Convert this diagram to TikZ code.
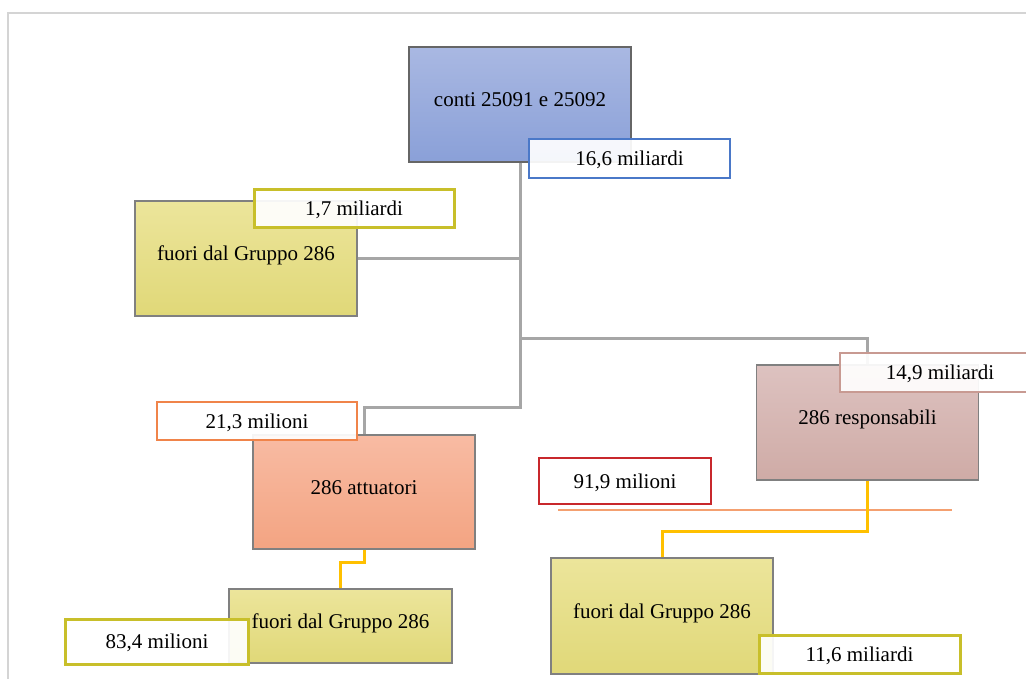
\documentclass[tikz,border=0pt]{standalone}
\usepackage{fontspec}
\setmainfont{Liberation Serif}
\usepackage{tikz}
\definecolor{framegrey}{HTML}{D4D4D4}
\definecolor{linkgrey}{HTML}{A6A6A6}
\definecolor{linkgold}{HTML}{FFC000}
\definecolor{linkorange}{HTML}{F4A070}
\definecolor{olive}{HTML}{C8BF2A}
\definecolor{bluetop}{RGB}{169,184,226}
\definecolor{bluebot}{RGB}{138,160,216}
\definecolor{yeltop}{RGB}{236,229,155}
\definecolor{yelbot}{RGB}{224,216,120}
\definecolor{rosetop}{RGB}{221,194,192}
\definecolor{rosebot}{RGB}{207,171,166}
\definecolor{salmtop}{RGB}{248,187,163}
\definecolor{salmbot}{RGB}{243,164,130}
\definecolor{labblue}{RGB}{74,120,200}
\definecolor{labrose}{RGB}{200,154,146}
\definecolor{labred}{RGB}{200,40,44}
\definecolor{laborange}{RGB}{240,132,74}

\begin{document}
\begin{tikzpicture}[x=1pt, y=-1pt,
    box/.style={draw=#1, line width=1.4pt, minimum width=222pt, minimum height=115pt,
      inner sep=0pt, text height=14pt, text depth=10pt},
    lab/.style={draw=#1, fill=white, fill opacity=0.92, text opacity=1, line width=1.5pt,
      minimum width=200pt, minimum height=38pt, inner sep=0pt, text height=14pt, text depth=0pt},
    grey line/.style={linkgrey, line width=3pt},
    gold line/.style={linkgold, line width=3pt}]
      \path[use as bounding box, clip] (0,0) rectangle (1026,679);
      \fontsize{21}{25}\selectfont

      \draw [framegrey, line width=2pt] (1026,13) -- (8,13) -- (8,679);

      \coordinate (jr) at (520,338);
      \coordinate (ja) at (520,407);
      \coordinate (ol) at (558,510);
      \coordinate (or) at (952,510);

      \node [box=black!60, top color=bluetop, bottom color=bluebot]
            (conti) at (520,104.5) {conti 25091 e 25092};
      \node [box=black!50, top color=yeltop, bottom color=yelbot]
            (fuori1) at (246,258.5) {fuori dal Gruppo 286};
      \node [box=black!50, top color=rosetop, bottom color=rosebot]
            (resp) at (867.5,422.5) {286 responsabili};
      \node [box=black!50, top color=salmtop, bottom color=salmbot, minimum height=114pt]
            (att) at (364,492) {286 attuatori};
      \node [box=black!50, top color=yeltop, bottom color=yelbot, minimum width=223pt, minimum height=74pt]
            (fuori2) at (340.5,626) {fuori dal Gruppo 286};
      \node [box=black!50, top color=yeltop, bottom color=yelbot, minimum height=116pt]
            (fuori3) at (662,616) {fuori dal Gruppo 286};

      \draw [grey line] (conti.south) |- (fuori1.east);
      \draw [grey line] (conti.south) |- (jr) -| (resp.north);
      \draw [grey line] (conti.south) -- (ja) -| (att.north);
      \draw [linkorange, line width=1.5pt] (ol) -- (or);
      \draw [gold line] (att.south) -- ++(0,13) -| (fuori2.north);
      \draw [gold line] (resp.south) -- ++(0,51) -| (fuori3.north);

      \node [lab=labblue, minimum width=201pt, minimum height=39pt] (l166) at (629.5,158.5) {16,6 miliardi};
      \node [lab=olive, line width=3pt] (l17) at (354,209) {1,7 miliardi};
      \node [lab=labrose, minimum height=39pt] (l149) at (940,372.5) {14,9 miliardi};
      \node [lab=labred, minimum width=172pt, minimum height=46pt] (l919) at (625,481) {91,9 milioni};
      \node [lab=laborange] (l213) at (257,421) {21,3 milioni};
      \node [lab=olive, line width=3pt, minimum width=183pt, minimum height=45pt] (l834) at (157,641.5) {83,4 milioni};
      \node [lab=olive, line width=3pt, minimum width=201pt] (l116) at (859.5,654) {11,6 miliardi};
\end{tikzpicture}
\end{document}
